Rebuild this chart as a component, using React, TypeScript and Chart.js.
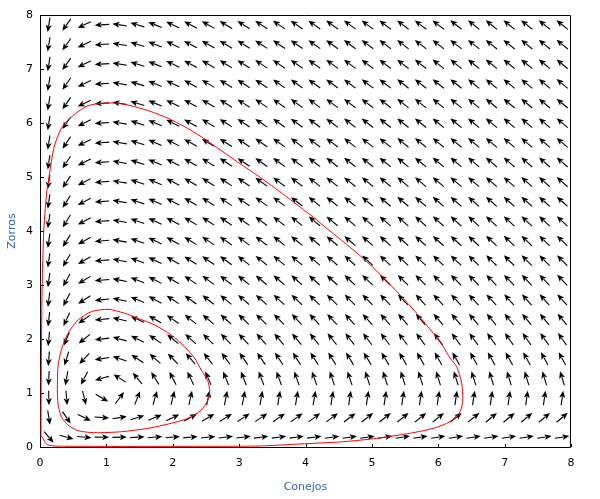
import React, { useEffect, useRef } from 'react';
import { Chart, registerables } from 'chart.js';

Chart.register(...registerables);

// Axis tick labels
const TICKS_X = [0, 1, 2, 3, 4, 5, 6, 7, 8];
const TICKS_Y = [0, 1, 2, 3, 4, 5, 6, 7, 8];

// Points of the direction-field grid (data units)
const FIELD_X = [0.133, 0.4, 0.667, 0.933, 1.2, 1.467, 1.733, 2.0, 2.267, 2.533, 2.8, 3.067, 3.333, 3.6, 3.867,
  4.133, 4.4, 4.667, 4.933, 5.2, 5.467, 5.733, 6.0, 6.267, 6.533, 6.8, 7.067, 7.333, 7.6, 7.867];
const FIELD_Y = [0.182, 0.545, 0.909, 1.273, 1.636, 2.0, 2.364, 2.727, 3.091, 3.455, 3.818, 4.182, 4.545, 4.909,
  5.273, 5.636, 6.0, 6.364, 6.727, 7.091, 7.455, 7.818];

// Lotka–Volterra system drawn as the direction field:  x' = A·x − B·x·y ,  y' = D·x·y − C·y
const RATE_A = 1;
const RATE_B = 1;
const RATE_C = 1;
const RATE_D = 1;

// Outer trajectory
const OUTER_X = [0.015, 0.015, 0.017, 0.018, 0.021, 0.026, 0.030, 0.042, 0.056, 0.080, 0.105, 0.136, 0.170, 0.221,
  0.321, 0.422, 0.573, 0.723, 0.924, 1.175, 1.427, 1.677, 1.929, 2.180, 2.430, 2.682, 2.933, 3.390, 3.816, 4.118,
  4.369, 4.621, 4.871, 5.122, 5.424, 5.675, 5.925, 6.076, 6.177, 6.278, 6.353, 6.369, 6.328, 6.177, 5.925, 5.574,
  5.073, 4.570, 3.917, 3.315, 2.682, 1.657, 0.904, 0.301, 0.170, 0.095, 0.030, 0.015];
const OUTER_Y = [0.191, 0.5, 0.87, 1.24, 1.80, 2.35, 2.78, 3.46, 4.0, 4.42, 4.76, 5.0, 5.283, 5.593,
  5.902, 6.056, 6.209, 6.320, 6.365, 6.365, 6.302, 6.209, 6.087, 5.931, 5.746, 5.531, 5.315, 4.930, 4.540, 4.255,
  4.000, 3.750, 3.490, 3.200, 2.815, 2.476, 2.106, 1.857, 1.648, 1.487, 1.180, 0.870, 0.654, 0.469, 0.346, 0.254,
  0.161, 0.098, 0.056, 0.019, 0.013, 0.011, 0.011, 0.015, 0.024, 0.056, 0.191, 0.191];

// Inner trajectory
const INNER_X = [0.261, 0.271, 0.321, 0.422, 0.573, 0.773, 1.024, 1.276, 1.476, 1.728, 1.978, 2.180, 2.331, 2.430,
  2.531, 2.557, 2.531, 2.430, 2.230, 1.978, 1.627, 1.225, 0.824, 0.573, 0.422, 0.321, 0.271, 0.261];
const INNER_Y = [1.056, 1.487, 1.796, 2.106, 2.352, 2.506, 2.550, 2.476, 2.383, 2.259, 2.074, 1.857, 1.643, 1.426,
  1.209, 1.024, 0.870, 0.685, 0.531, 0.439, 0.346, 0.283, 0.265, 0.302, 0.407, 0.561, 0.809, 1.056];

const TITLE_BLUE = '#3465a8';
const FONT = 'DejaVu Sans';

const fieldPlugin = {
  id: 'directionField',
  beforeDatasetsDraw(chart: any) {
    const { ctx, scales } = chart;
    const xs = scales.x;
    const ys = scales.y;
    const pxX = xs.getPixelForValue(1) - xs.getPixelForValue(0);
    const pxY = ys.getPixelForValue(0) - ys.getPixelForValue(1);
    const meta = chart.getDatasetMeta(0);
    const pts = chart.data.datasets[0].data;
    const L = 14.5;
    const HL = 7;
    const HW = 3;
    ctx.save();
    ctx.strokeStyle = '#000';
    ctx.fillStyle = '#000';
    ctx.lineWidth = 1.1;
    meta.data.forEach((el: any, i: number) => {
      const p = pts[i];
      const u = RATE_A * p.x - RATE_B * p.x * p.y;
      const v = RATE_D * p.x * p.y - RATE_C * p.y;
      let dx = u * pxX;
      let dy = -v * pxY;
      const n = Math.hypot(dx, dy);
      if (!n) return;
      dx /= n;
      dy /= n;
      const cx = el.x;
      const cy = el.y;
      const tx = cx - (dx * L) / 2;
      const ty = cy - (dy * L) / 2;
      const hx = cx + (dx * L) / 2;
      const hy = cy + (dy * L) / 2;
      const bx = hx - dx * HL;
      const by = hy - dy * HL;
      ctx.beginPath();
      ctx.moveTo(tx, ty);
      ctx.lineTo(bx + dx, by + dy);
      ctx.stroke();
      ctx.beginPath();
      ctx.moveTo(hx, hy);
      ctx.lineTo(bx - dy * HW, by + dx * HW);
      ctx.lineTo(bx + dx * 1.5, by + dy * 1.5);
      ctx.lineTo(bx + dy * HW, by - dx * HW);
      ctx.closePath();
      ctx.fill();
    });
    ctx.restore();
  },
};

const framePlugin = {
  id: 'frameTicks',
  beforeDatasetsDraw(chart: any) {
    const { ctx, chartArea, scales } = chart;
    const { left, right, top, bottom } = chartArea;
    ctx.save();
    ctx.strokeStyle = '#000';
    ctx.lineWidth = 1;
    ctx.beginPath();
    ctx.rect(Math.round(left) + 0.5, Math.round(top) + 0.5, Math.round(right) - Math.round(left) - 1, Math.round(bottom) - Math.round(top));
    ctx.stroke();
    ctx.beginPath();
    TICKS_X.forEach((v) => {
      const px = Math.round(scales.x.getPixelForValue(v)) + 0.5;
      ctx.moveTo(px, Math.round(bottom));
      ctx.lineTo(px, Math.round(bottom) - 3);
    });
    TICKS_Y.forEach((v) => {
      const py = Math.round(scales.y.getPixelForValue(v)) + 0.5;
      ctx.moveTo(Math.round(left), py);
      ctx.lineTo(Math.round(left) + 4, py);
    });
    ctx.stroke();
    ctx.restore();
  },
};

export default function App() {
  const ref = useRef<HTMLCanvasElement | null>(null);

  useEffect(() => {
    if (!ref.current) return;
    const fieldPoints: { x: number; y: number }[] = [];
    FIELD_Y.forEach((y) => FIELD_X.forEach((x) => fieldPoints.push({ x, y })));
    const outer = OUTER_X.map((x, i) => ({ x, y: OUTER_Y[i] }));
    const inner = INNER_X.map((x, i) => ({ x, y: INNER_Y[i] }));

    const chart = new Chart(ref.current, {
      type: 'scatter',
      data: {
        datasets: [
          { label: 'campo', data: fieldPoints, pointRadius: 0, showLine: false },
          {
            label: 'trayectoria exterior',
            data: outer,
            showLine: true,
            borderColor: '#ff0000',
            borderWidth: 1,
            pointRadius: 0,
            tension: 0.25,
            fill: false,
            borderJoinStyle: 'round',
          },
          {
            label: 'trayectoria interior',
            data: inner,
            showLine: true,
            borderColor: '#ff0000',
            borderWidth: 1,
            pointRadius: 0,
            tension: 0.25,
            fill: false,
            borderJoinStyle: 'round',
          },
        ],
      },
      options: {
        animation: false,
        responsive: false,
        events: [],
        layout: { padding: { left: 0, top: 15, right: 29, bottom: 0 } },
        plugins: { legend: { display: false }, tooltip: { enabled: false } },
        scales: {
          x: {
            type: 'linear',
            min: 0,
            max: 8,
            afterBuildTicks: (s: any) => {
              s.ticks = TICKS_X.map((v) => ({ value: v }));
            },
            afterFit: (s: any) => {
              s.height = 52;
            },
            grid: { display: false, drawTicks: false },
            border: { display: false },
            ticks: {
              color: '#000',
              font: { family: FONT, size: 11 },
              padding: 10,
              maxRotation: 0,
              autoSkip: false,
              callback: (v: any) => String(v),
            },
            title: {
              display: true,
              text: 'Conejos',
              color: TITLE_BLUE,
              font: { family: FONT, size: 11 },
              padding: { top: 0, bottom: 5 },
            },
          },
          y: {
            type: 'linear',
            min: 0,
            max: 8,
            afterBuildTicks: (s: any) => {
              s.ticks = TICKS_Y.map((v) => ({ value: v }));
            },
            afterFit: (s: any) => {
              s.width = 40;
            },
            grid: { display: false, drawTicks: false },
            border: { display: false },
            ticks: {
              color: '#000',
              font: { family: FONT, size: 11 },
              padding: 7,
              autoSkip: false,
              callback: (v: any) => String(v),
            },
            title: {
              display: true,
              text: 'Zorros',
              color: TITLE_BLUE,
              font: { family: FONT, size: 11 },
              padding: { top: 6, bottom: 0 },
            },
          },
        },
      },
      plugins: [fieldPlugin, framePlugin],
    } as any);

    return () => chart.destroy();
  }, []);

  return (
    <div style={{ position: 'absolute', left: 0, top: 0, width: 600, height: 499, background: '#fff' }}>
      <canvas ref={ref} width={600} height={499} style={{ display: 'block', width: 600, height: 499 }} />
    </div>
  );
}
